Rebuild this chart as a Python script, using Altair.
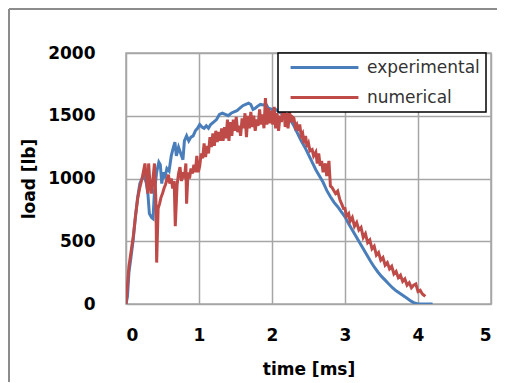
import altair as alt
import pandas as pd

series_names = ["experimental", "numerical"]
series_colors = ["#4a7ebb", "#be4b48"]

x_ticks = [0, 1, 2, 3, 4, 5]
y_ticks = [0, 500, 1000, 1500, 2000]

exp_t = [0.00, 0.02, 0.04, 0.07, 0.10, 0.13, 0.16, 0.19, 0.22, 0.25, 0.28, 0.30, 0.32, 0.35,
         0.37, 0.39, 0.42, 0.45, 0.47, 0.49, 0.51, 0.53, 0.56, 0.59, 0.62, 0.65, 0.67, 0.69,
         0.72, 0.75, 0.78, 0.80, 0.83, 0.86, 0.89, 0.92, 0.95, 0.98, 1.01, 1.04, 1.07, 1.10,
         1.13, 1.16, 1.20, 1.24, 1.28, 1.32, 1.36, 1.40, 1.44, 1.48, 1.52, 1.56, 1.60, 1.64,
         1.68, 1.71, 1.74, 1.77, 1.80, 1.84, 1.88, 1.92, 1.95, 2.00, 2.05, 2.10, 2.15, 2.20,
         2.25, 2.30, 2.35, 2.40, 2.45, 2.50, 2.55, 2.60, 2.65, 2.70, 2.75, 2.80, 2.85, 2.90,
         2.95, 3.00, 3.05, 3.10, 3.15, 3.20, 3.25, 3.30, 3.35, 3.40, 3.45, 3.50, 3.55, 3.60,
         3.65, 3.70, 3.75, 3.80, 3.85, 3.90, 3.95, 4.00, 4.10, 4.20]
exp_load = [0, 60, 250, 380, 520, 700, 850, 960, 1000, 1020, 960, 880, 720, 690,
            680, 900, 1050, 1130, 1110, 960, 1050, 1000, 1080, 1060, 1180, 1250, 1290, 1180,
            1250, 1200, 1150, 1300, 1340, 1300, 1330, 1340, 1380, 1400, 1430, 1410, 1400, 1420,
            1400, 1430, 1450, 1470, 1510, 1520, 1510, 1500, 1520, 1530, 1540, 1560, 1580, 1590,
            1600, 1590, 1550, 1560, 1575, 1590, 1585, 1590, 1560, 1550, 1550, 1530, 1510, 1490,
            1470, 1420, 1360, 1300, 1250, 1190, 1130, 1070, 1020, 970, 905, 855, 810, 775,
            735, 695, 640, 590, 540, 490, 440, 390, 340, 295, 255, 220, 190, 160,
            130, 105, 85, 65, 45, 25, 8, 0, 0, 0]

num_t = [0.00, 0.02, 0.04, 0.07, 0.10, 0.13, 0.16, 0.19, 0.22, 0.24, 0.26, 0.28, 0.30, 0.31,
         0.33, 0.35, 0.37, 0.39, 0.41, 0.42, 0.44, 0.46, 0.48, 0.50, 0.52, 0.54, 0.56, 0.58,
         0.60, 0.62, 0.64, 0.66, 0.675, 0.70, 0.72, 0.74, 0.76, 0.78, 0.80, 0.82, 0.83, 0.85,
         0.87, 0.89, 0.91, 0.93, 0.95, 0.97, 0.99, 1.01, 1.03, 1.05, 1.07, 1.09, 1.11, 1.13,
         1.15, 1.17, 1.19, 1.21, 1.23, 1.25, 1.27, 1.29, 1.31, 1.33, 1.35, 1.37, 1.39, 1.41,
         1.43, 1.45, 1.47, 1.49, 1.51, 1.53, 1.55, 1.57, 1.59, 1.61, 1.63, 1.65, 1.67, 1.69,
         1.71, 1.73, 1.75, 1.77, 1.79, 1.81, 1.83, 1.85, 1.87, 1.89, 1.91, 1.93, 1.95, 1.97,
         1.99, 2.01, 2.03, 2.05, 2.07, 2.09, 2.11, 2.13, 2.16, 2.18, 2.20, 2.22, 2.24, 2.26,
         2.28, 2.30, 2.32, 2.34, 2.36, 2.38, 2.40, 2.42, 2.44, 2.46, 2.48, 2.50, 2.52, 2.55,
         2.57, 2.60, 2.62, 2.64, 2.66, 2.68, 2.70, 2.73, 2.75, 2.78, 2.80, 2.82, 2.85, 2.87,
         2.90, 2.93, 2.96, 2.98, 3.00, 3.02, 3.05, 3.07, 3.10, 3.13, 3.16, 3.19, 3.22, 3.25,
         3.28, 3.31, 3.34, 3.37, 3.40, 3.43, 3.46, 3.49, 3.52, 3.55, 3.58, 3.61, 3.64, 3.67,
         3.70, 3.73, 3.76, 3.79, 3.82, 3.85, 3.88, 3.91, 3.94, 3.97, 4.00, 4.03, 4.06, 4.10]
num_load = [0, 150, 300, 420, 540, 700, 840, 930, 1000, 1060, 1120, 980, 880, 1120,
            950, 880, 1000, 1120, 820, 330, 760, 800, 850, 880, 920, 950, 990, 1030,
            960, 1000, 920, 980, 620, 950, 1040, 1090, 980, 1050, 1000, 1120, 800, 1050,
            1000, 1080, 1040, 1110, 1050, 1180, 1050, 1100, 1200, 1160, 1280, 1170, 1260, 1200,
            1330, 1250, 1360, 1260, 1380, 1290, 1370, 1300, 1400, 1300, 1410, 1320, 1470, 1300,
            1450, 1340, 1470, 1380, 1490, 1370, 1420, 1340, 1480, 1400, 1520, 1330, 1500, 1400,
            1530, 1410, 1500, 1380, 1470, 1420, 1550, 1430, 1510, 1400, 1640, 1430, 1560, 1440,
            1540, 1430, 1570, 1400, 1520, 1380, 1500, 1450, 1640, 1410, 1520, 1400, 1530, 1450,
            1490, 1480, 1410, 1430, 1380, 1430, 1340, 1360, 1280, 1340, 1250, 1280, 1220, 1230,
            1180, 1210, 1120, 1200, 1100, 1140, 1050, 1120, 1020, 1140, 940, 930, 900, 880,
            900, 830, 790, 760, 760, 700, 720, 660, 690, 620, 650, 590, 610, 530,
            560, 490, 510, 440, 460, 390, 410, 350, 370, 310, 330, 280, 300, 240,
            260, 210, 230, 180, 200, 150, 170, 130, 150, 160, 100, 110, 80, 60]

df = pd.concat([
    pd.DataFrame({"t": exp_t, "load": exp_load, "series": series_names[0],
                  "idx": list(range(len(exp_t)))}),
    pd.DataFrame({"t": num_t, "load": num_load, "series": series_names[1],
                  "idx": list(range(len(num_t)))}),
], ignore_index=True)

FONT = "DejaVu Sans"

lines = alt.Chart(df).mark_line(strokeWidth=3, clip=True).encode(
    x=alt.X("t:Q", scale=alt.Scale(domain=[0, 5], nice=False),
            axis=alt.Axis(values=x_ticks, format="d", title="time [ms]", labelPadding=23,
                          titleY=57)),
    y=alt.Y("load:Q", scale=alt.Scale(domain=[0, 2000], nice=False),
            axis=alt.Axis(values=y_ticks, format="d", title="load [lb]", labelPadding=31,
                          titleX=-97, titleY=125.5, titleAngle=270,
                          titleAlign="center", titleBaseline="middle")),
    color=alt.Color("series:N",
                    scale=alt.Scale(domain=series_names, range=series_colors),
                    legend=alt.Legend(title=None, orient="none", legendX=152, legendY=0,
                                      direction="vertical",
                                      symbolType="M-6,0H6", symbolSize=128,
                                      symbolStrokeWidth=3, symbolOffset=32,
                                      labelOffset=34, padding=6, rowPadding=12,
                                      strokeColor="black", fillColor="white",
                                      labelFont=FONT, labelFontSize=17,
                                      labelColor="#333333")),
    order=alt.Order("idx:Q"),
)

frame_df = pd.DataFrame({"k": [0]})
frame_left = alt.Chart(frame_df).mark_rule(color="#8c8c8c", strokeWidth=2, clip=False).encode(
    x=alt.value(-117), y=alt.value(-44), y2=alt.value(330))
frame_top = alt.Chart(frame_df).mark_rule(color="#8c8c8c", strokeWidth=2, clip=False).encode(
    x=alt.value(-117), x2=alt.value(371), y=alt.value(-44))

chart = alt.layer(lines, frame_left, frame_top).properties(
    width=365, height=251,
    padding={"left": 118, "top": 45, "right": 10, "bottom": 78},
    autosize=alt.AutoSizeParams(type="none"),
    background="white",
).configure_view(
    stroke="#a6a6a6", strokeWidth=1.5,
).configure_axis(
    labelFont=FONT, labelFontWeight="bold", labelFontSize=17, labelColor="black",
    titleFont=FONT, titleFontWeight="bold", titleFontSize=17, titleColor="black",
    ticks=False, domain=False, grid=True, gridColor="#a6a6a6", gridWidth=1.5,
).configure_legend(
    strokeWidth=1.5,
)

chart.save("out.html", embed_options={"renderer": "svg", "actions": False})
